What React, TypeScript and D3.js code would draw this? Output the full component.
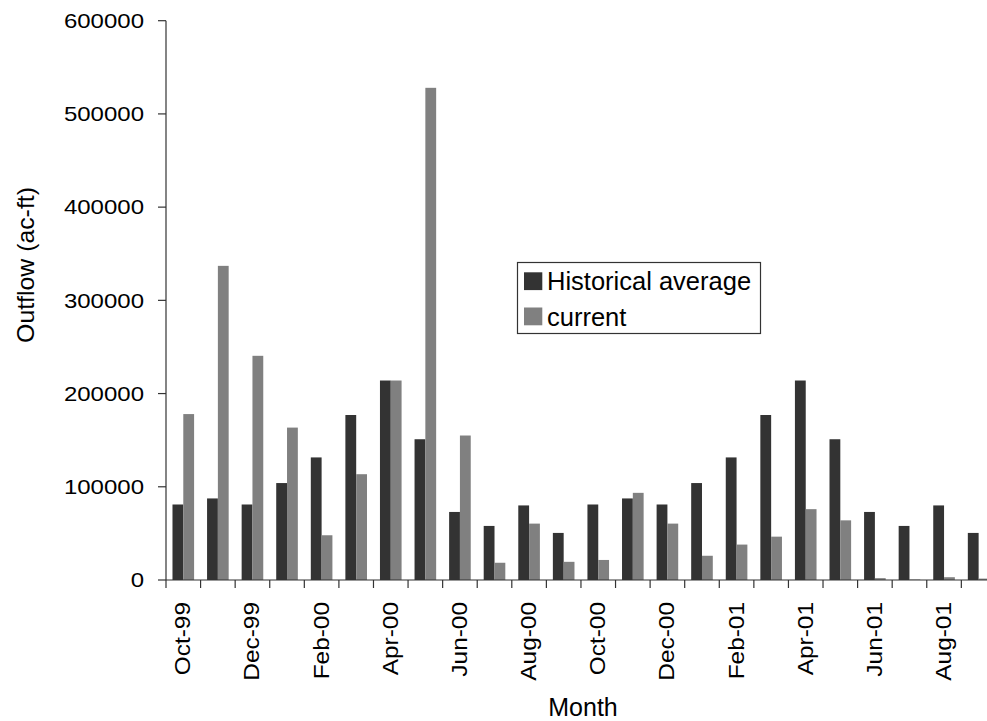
import React from "react";
import * as d3 from "d3";

const months = [
  "Oct-99", "Nov-99", "Dec-99", "Jan-00", "Feb-00", "Mar-00", "Apr-00", "May-00",
  "Jun-00", "Jul-00", "Aug-00", "Sep-00", "Oct-00", "Nov-00", "Dec-00", "Jan-01",
  "Feb-01", "Mar-01", "Apr-01", "May-01", "Jun-01", "Jul-01", "Aug-01", "Sep-01",
];

const historicalAverage = [
  81000, 87500, 81000, 104000, 131500, 177000, 214000, 151000, 73000, 58000, 80000, 50500,
  81000, 87500, 81000, 104000, 131500, 177000, 214000, 151000, 73000, 58000, 80000, 50500,
];

const current = [
  178000, 337000, 240500, 163500, 48000, 113500, 214000, 528000, 155000, 18500, 60500, 19500,
  21500, 93500, 60500, 26000, 38000, 46500, 76000, 64000, 2000, 500, 3000, 1500,
];

const seriesNames = ["Historical average", "current"];
const seriesColors = ["#333333", "#808080"];
const yTicks = [0, 100000, 200000, 300000, 400000, 500000, 600000];
const labelEvery = 2;

const W = 987;
const H = 721;
const left = 166;
const step = 34.58;
const top = 20.7;
const bottom = 580;
const font = "'Liberation Sans', Arial, sans-serif";

export default function App() {
  const x0 = d3
    .scaleBand<string>()
    .domain(months)
    .range([left, left + step * months.length])
    .paddingInner(0.375)
    .paddingOuter(0.1875);
  const x1 = d3
    .scaleBand<string>()
    .domain(seriesNames)
    .range([0, x0.bandwidth()]);
  const y = d3.scaleLinear().domain([0, 600000]).range([bottom, top]);

  const series = [historicalAverage, current];

  return (
    <svg
      width={W}
      height={H}
      style={{ position: "absolute", left: 0, top: 0, background: "#fff" }}
      fontFamily={font}
    >
      {/* bars */}
      {series.map((vals, si) =>
        months.map((m, i) => (
          <rect
            key={`${si}-${m}`}
            x={(x0(m) as number) + (x1(seriesNames[si]) as number)}
            y={y(vals[i])}
            width={x1.bandwidth()}
            height={bottom - y(vals[i])}
            fill={seriesColors[si]}
          />
        ))
      )}

      {/* y axis */}
      <line x1={left} x2={left} y1={top} y2={bottom} stroke="#333" strokeWidth={1.2} />
      {yTicks.map((t) => (
        <g key={t}>
          <line x1={left - 8} x2={left} y1={y(t)} y2={y(t)} stroke="#333" strokeWidth={1.2} />
          <text
            transform={`translate(144, ${y(t) + 7.2}) scale(1.2, 1)`}
            fontSize={20}
            textAnchor="end"
            fill="#000"
          >
            {t}
          </text>
        </g>
      ))}

      {/* x axis */}
      <line x1={left} x2={W} y1={bottom} y2={bottom} stroke="#333" strokeWidth={1.2} />
      {months.map((m, i) => (
        <line
          key={`t-${m}`}
          x1={left + i * step}
          x2={left + i * step}
          y1={bottom}
          y2={bottom + 8}
          stroke="#333"
          strokeWidth={1.2}
        />
      ))}
      {months.map((m, i) =>
        i % labelEvery === 0 ? (
          <text
            key={`l-${m}`}
            transform={`translate(${(x0(m) as number) + x0.bandwidth() / 2 + 7}, 602) rotate(-90) scale(1.11, 1)`}
            fontSize={22}
            textAnchor="end"
            fill="#000"
          >
            {m}
          </text>
        ) : null
      )}

      {/* axis titles */}
      <text x={583} y={716} fontSize={25} textAnchor="middle" fill="#000">
        Month
      </text>
      <text
        transform={`translate(34, 265) rotate(-90) scale(1.08, 1)`}
        fontSize={23}
        textAnchor="middle"
        fill="#000"
      >
        Outflow (ac-ft)
      </text>

      {/* legend */}
      <rect x={517.5} y={262.5} width={243} height={71} fill="#fff" stroke="#333" strokeWidth={1.2} />
      {seriesNames.map((n, i) => (
        <g key={n}>
          <rect x={524} y={272.3 + i * 35.2} width={18.3} height={17.8} fill={seriesColors[i]} />
          <text x={547} y={290 + i * 35.5} fontSize={25.5} fill="#000">
            {n}
          </text>
        </g>
      ))}
    </svg>
  );
}
